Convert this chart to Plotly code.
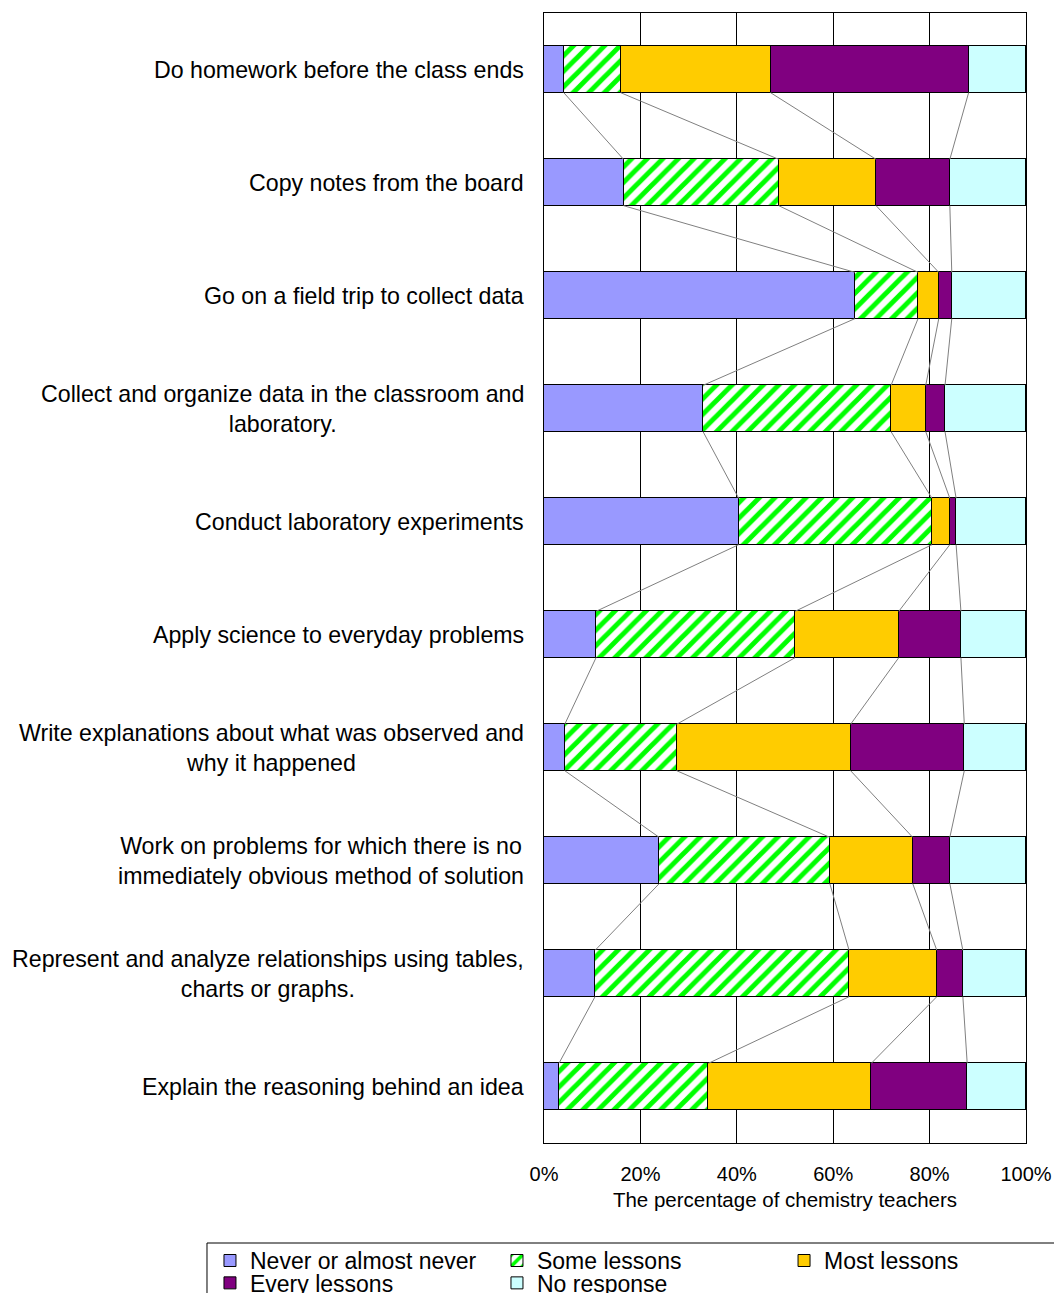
import plotly.graph_objects as go
import numpy as np

categories = [
    "Do homework before the class ends",
    "Copy notes from the board",
    "Go on a field trip to collect data",
    "Collect and organize data in the classroom and<br>laboratory.",
    "Conduct laboratory experiments",
    "Apply science to everyday problems",
    "Write explanations about what was observed and<br>why it happened",
    "Work on problems for which there is no<br>immediately obvious method of solution",
    "Represent and analyze relationships using tables,<br>charts or graphs.",
    "Explain the reasoning behind an idea",
]
series_names = ["Never or almost never", "Some lessons", "Most lessons", "Every lessons", "No response"]
never = [4.1, 16.5, 64.5, 33.0, 40.4, 10.8, 4.3, 23.9, 10.6, 3.1]
some = [11.8, 32.2, 13.1, 39.0, 40.1, 41.3, 23.2, 35.4, 52.7, 31.0]
most = [31.1, 20.2, 4.3, 7.2, 3.7, 21.5, 36.1, 17.2, 18.2, 33.8]
every = [41.1, 15.3, 2.7, 4.0, 1.3, 12.9, 23.6, 7.7, 5.4, 19.9]
no_response = [11.9, 15.8, 15.4, 16.8, 14.5, 13.5, 12.8, 15.8, 13.1, 12.2]
x_ticks = [0, 20, 40, 60, 80, 100]
x_tick_labels = ["0%", "20%", "40%", "60%", "80%", "100%"]
x_title = "The percentage of chemistry teachers"

FONT = "Arial, Liberation Sans, sans-serif"
colors = ["#9999FF", "#FFFFFF", "#FFCC00", "#800080", "#CCFFFF"]
values = [never, some, most, every, no_response]
legends = ["legend", "legend", "legend3", "legend2", "legend2"]
BAR_W = 0.41
ypos = list(range(len(categories)))

fig = go.Figure()
for i, (name, vals) in enumerate(zip(series_names, values)):
    marker = dict(color=colors[i], line=dict(color="black", width=1))
    if name == "Some lessons":
        marker["pattern"] = dict(shape="/", fgcolor="#00FF00", bgcolor="#FFFFFF",
                                 fgopacity=1, size=11, solidity=0.45)
    fig.add_trace(go.Bar(
        y=ypos, x=vals, name=name, orientation="h", width=BAR_W,
        marker=marker, legend=legends[i], hoverinfo="x+name",
    ))

# series lines connecting segment boundaries between adjacent bars
cum = np.cumsum(np.array(values[:4]), axis=0)
for k in range(4):
    xs, ys = [], []
    for j in range(len(categories) - 1):
        xs += [cum[k][j], cum[k][j + 1], None]
        ys += [j + BAR_W / 2, j + 1 - BAR_W / 2, None]
    fig.add_trace(go.Scatter(x=xs, y=ys, mode="lines",
                             line=dict(color="#808080", width=1),
                             showlegend=False, hoverinfo="skip"))

# category labels (centered multi-line blocks, right aligned to the axis)
for j, cat in enumerate(categories):
    fig.add_annotation(x=-0.038, xref="paper", y=j, yref="y", text=cat,
                       showarrow=False, xanchor="right", yanchor="middle",
                       align="center", font=dict(family=FONT, size=23.2, color="black"))

fig.add_shape(type="rect", xref="paper", yref="paper",
              x0=-0.6992, x1=1.4, y0=-0.0885, y1=-0.5,
              line=dict(color="black", width=1), fillcolor="rgba(0,0,0,0)")

leg_common = dict(orientation="h", xanchor="left", yanchor="top",
                  bgcolor="rgba(0,0,0,0)", borderwidth=0, font=dict(size=23),
                  entrywidth=242, traceorder="normal")
fig.update_layout(
    width=1054, height=1293,
    margin=dict(l=544, r=28, t=13, b=150, autoexpand=False),
    barmode="stack", bargap=0,
    plot_bgcolor="white", paper_bgcolor="white",
    font=dict(family=FONT, color="black"),
    legend=dict(x=-0.693, y=-0.085, **leg_common),
    legend2=dict(x=-0.693, y=-0.1048, **leg_common),
    legend3=dict(x=0.498, y=-0.085, **leg_common),
)
fig.update_xaxes(range=[0, 100], tickvals=x_ticks, ticktext=x_tick_labels,
                 showgrid=True, gridcolor="black", gridwidth=1,
                 showline=True, linecolor="black", linewidth=1, mirror=True,
                 ticks="", ticklabelstandoff=13,
                 tickfont=dict(size=20, family=FONT, color="black"),
                 title=dict(text=x_title, font=dict(size=20.5, family=FONT, color="black"),
                            standoff=8),
                 zeroline=False)
fig.update_yaxes(range=[len(categories) - 0.5, -0.5], showticklabels=False,
                 showgrid=False, showline=True, linecolor="black", linewidth=1,
                 mirror=True, ticks="", zeroline=False)

fig.write_html(
    "out.html",
    config={"displayModeBar": False},
    post_script="document.body.style.margin='0';document.body.style.overflow='hidden';",
)
